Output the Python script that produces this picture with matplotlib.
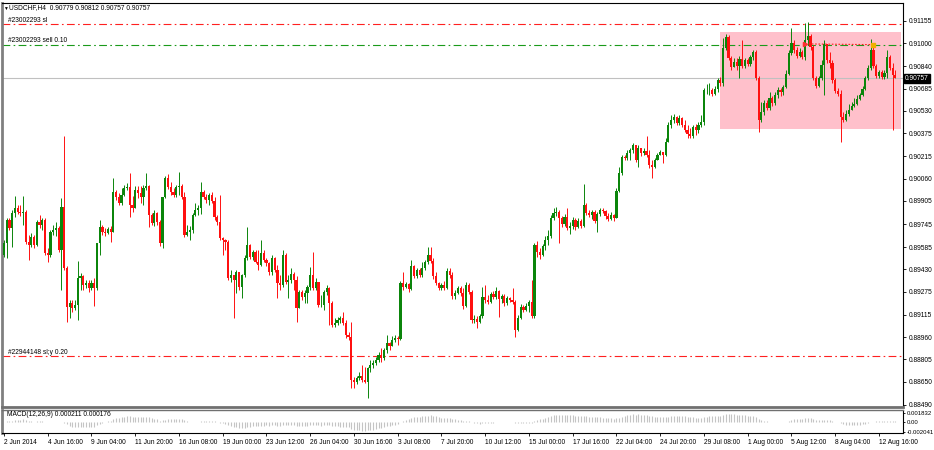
import numpy as np
import pandas as pd
import matplotlib
matplotlib.use("Agg")
import matplotlib.pyplot as plt
from matplotlib.patches import Rectangle

# USDCHF H4 bars, prices in points (1 point = 0.00001)
first_open_pts = 89530
close_pts = [
    89614, 89773, 89718, 89822, 89856, 89829, 89822, 89829, 89621, 89600,
    89655, 89600, 89759, 89739, 89773, 89544, 89530, 89690, 89704, 89718,
    89565, 89863, 89440, 89169, 89197, 89162, 89183, 89371, 89385, 89322,
    89336, 89301, 89336, 89301, 89614, 89725, 89690, 89683, 89711, 89690,
    89968, 89933, 89891, 89947, 89995, 90002, 89877, 89856, 89981, 89961,
    89933, 89995, 90009, 89808, 89752, 89822, 89759, 89614, 89933, 90065,
    90002, 89968, 89947, 90002, 90009, 89933, 89669, 89690, 89704, 89808,
    89843, 89856, 89968, 89933, 89912, 89947, 89905, 89794, 89759, 89648,
    89634, 89621, 89371, 89392, 89357, 89412, 89308, 89392, 89509, 89600,
    89516, 89551, 89482, 89461, 89544, 89496, 89475, 89412, 89509, 89426,
    89336, 89322, 89530, 89343, 89357, 89398, 89357, 89162, 89274, 89239,
    89267, 89308, 89392, 89301, 89343, 89183, 89183, 89274, 89301, 89197,
    89045, 89058, 89079, 89093, 89058, 88975, 88961, 88663, 88649, 88677,
    88691, 88663, 88649, 88746, 88767, 88781, 88802, 88836, 88815, 88871,
    88920, 88899, 88940, 88954, 88947, 89336, 89308, 89329, 89294, 89454,
    89385, 89426, 89392, 89440, 89482, 89530, 89489, 89385, 89336, 89301,
    89322, 89301, 89419, 89392, 89246, 89267, 89301, 89267, 89176, 89322,
    89274, 89079, 89086, 89065, 89107, 89239, 89218, 89204, 89260, 89239,
    89280, 89225, 89246, 89197, 89232, 89218, 89204, 89010, 89093, 89169,
    89149, 89176, 89204, 89107, 89600, 89551, 89530, 89593, 89634, 89662,
    89787, 89822, 89829, 89787, 89745, 89794, 89718, 89732, 89773, 89725,
    89766, 89732, 89877, 89822, 89808, 89829, 89766, 89815, 89843, 89836,
    89801, 89780, 89808, 89787, 89974, 90099, 90210, 90203, 90238, 90259,
    90294, 90190, 90273, 90238, 90252, 90224, 90155, 90141, 90190, 90224,
    90245, 90224, 90315, 90433, 90467, 90488, 90446, 90481, 90433, 90398,
    90370, 90356, 90419, 90398, 90433, 90453, 90675, 90675, 90675, 90648,
    90682, 90745, 90724, 90967, 91043, 90897, 90835, 90870, 90842, 90891,
    90842, 90884, 90856, 90904, 90939, 90759, 90467, 90523, 90585, 90550,
    90620, 90585, 90641, 90675, 90662, 90696, 90786, 90932, 91002, 90953,
    90911, 90939, 90904, 91022, 91050, 90974, 90759, 90703, 90759, 90849,
    90995, 90884, 90863, 90745, 90668, 90648, 90488, 90467, 90509, 90537,
    90564, 90578, 90613, 90641, 90682, 90759, 90828, 90953, 90842, 90773,
    90800, 90766, 90793, 90904, 90828, 90779, 90757,
]
high_pts = [
    89634, 89787, 89787, 89843, 89940, 89877, 89877, 89940, 89843, 89669,
    89683, 89669, 89773, 89808, 89787, 89787, 89579, 89704, 89739, 89759,
    89732, 89926, 90356, 89454, 89218, 89218, 89218, 89489, 89405, 89392,
    89357, 89357, 89357, 89371, 89614, 89773, 89739, 89718, 89725, 89732,
    90065, 89981, 89961, 89995, 90016, 90030, 90099, 89940, 90009, 90009,
    90009, 90016, 90099, 90016, 89822, 89843, 89829, 89773, 89933, 90079,
    90092, 90037, 89995, 90016, 90106, 90023, 89968, 89739, 89732, 89822,
    89891, 89877, 90037, 89981, 89954, 89961, 89968, 89933, 89808, 89947,
    89655, 89641, 89634, 89426, 89392, 89426, 89412, 89398, 89530, 89725,
    89607, 89565, 89565, 89565, 89634, 89565, 89509, 89482, 89530, 89516,
    89461, 89392, 89565, 89544, 89392, 89440, 89412, 89385, 89287, 89287,
    89287, 89322, 89447, 89551, 89371, 89343, 89253, 89287, 89322, 89308,
    89211, 89093, 89100, 89107, 89135, 89079, 88996, 89065, 88684, 88691,
    88718, 88767, 88753, 88753, 88802, 88802, 88822, 88857, 88885, 88885,
    88975, 88927, 88968, 88975, 88968, 89350, 89412, 89343, 89336, 89496,
    89461, 89440, 89440, 89482, 89496, 89586, 89586, 89509, 89412, 89343,
    89336, 89350, 89440, 89440, 89412, 89287, 89315, 89315, 89301, 89343,
    89336, 89287, 89114, 89107, 89121, 89308, 89322, 89253, 89274, 89280,
    89308, 89287, 89260, 89260, 89246, 89239, 89301, 89218, 89114, 89190,
    89183, 89197, 89218, 89357, 89614, 89627, 89579, 89607, 89662, 89704,
    89808, 89856, 89863, 89843, 89801, 89815, 89856, 89759, 89794, 89787,
    89787, 89780, 90023, 89891, 89843, 89843, 89843, 89829, 89856, 89856,
    89843, 89822, 89829, 89815, 89995, 90141, 90224, 90224, 90259, 90273,
    90308, 90294, 90294, 90273, 90273, 90356, 90259, 90190, 90203, 90238,
    90259, 90238, 90342, 90453, 90502, 90509, 90495, 90502, 90488, 90467,
    90433, 90412, 90433, 90439, 90453, 90502, 90689, 90717, 90724, 90689,
    90703, 90759, 90766, 91036, 91064, 91057, 90911, 90897, 90897, 90911,
    91022, 90897, 90897, 90918, 90953, 90953, 90773, 90592, 90606, 90606,
    90662, 90634, 90662, 90696, 90689, 90710, 90814, 90953, 91106, 91022,
    90974, 90967, 90953, 91140, 91147, 91064, 90988, 90773, 90773, 90884,
    91022, 90995, 90939, 90884, 90759, 90689, 90675, 90523, 90537, 90578,
    90592, 90620, 90641, 90655, 90703, 90773, 90849, 91029, 91002, 90856,
    90814, 90814, 90814, 90953, 90918, 90863, 90812,
]
low_pts = [
    89516, 89509, 89704, 89586, 89794, 89815, 89801, 89739, 89607, 89496,
    89586, 89579, 89593, 89718, 89704, 89530, 89482, 89516, 89669, 89662,
    89551, 89287, 89426, 89065, 89093, 89135, 89149, 89079, 89287, 89287,
    89301, 89274, 89287, 89176, 89287, 89530, 89669, 89662, 89676, 89621,
    89690, 89912, 89877, 89877, 89940, 89981, 89794, 89829, 89912, 89926,
    89891, 89877, 89981, 89725, 89739, 89732, 89739, 89593, 89579, 89926,
    89988, 89947, 89933, 89933, 89947, 89919, 89655, 89662, 89634, 89683,
    89801, 89808, 89815, 89919, 89891, 89877, 89891, 89773, 89739, 89634,
    89530, 89565, 89357, 89343, 89093, 89267, 89287, 89232, 89378, 89496,
    89503, 89496, 89475, 89426, 89454, 89482, 89454, 89392, 89392, 89412,
    89232, 89287, 89308, 89329, 89232, 89336, 89287, 89065, 89183, 89218,
    89197, 89197, 89287, 89287, 89287, 89169, 89169, 89149, 89253, 89045,
    89031, 89031, 89045, 89058, 89045, 88954, 88940, 88607, 88607, 88635,
    88663, 88649, 88642, 88538, 88718, 88746, 88767, 88788, 88788, 88802,
    88850, 88871, 88899, 88926, 88906, 88940, 89287, 89301, 89274, 89287,
    89371, 89371, 89378, 89378, 89426, 89468, 89475, 89364, 89322, 89287,
    89287, 89287, 89294, 89371, 89225, 89225, 89260, 89246, 89156, 89169,
    89260, 89058, 89058, 89024, 89058, 89093, 89197, 89190, 89197, 89225,
    89225, 89100, 89197, 89176, 89183, 89204, 89190, 88961, 89003, 89086,
    89135, 89142, 89135, 89093, 89093, 89516, 89503, 89523, 89565, 89600,
    89648, 89773, 89801, 89614, 89725, 89732, 89704, 89676, 89711, 89704,
    89718, 89718, 89725, 89808, 89794, 89780, 89752, 89690, 89801, 89822,
    89780, 89766, 89773, 89766, 89787, 89968, 90086, 90190, 90190, 90190,
    90238, 90176, 90141, 90217, 90224, 90210, 90134, 90065, 90134, 90190,
    90224, 90169, 90217, 90315, 90412, 90446, 90433, 90433, 90419, 90384,
    90342, 90342, 90342, 90363, 90377, 90419, 90433, 90648, 90641, 90634,
    90641, 90662, 90703, 90703, 90953, 90884, 90814, 90842, 90814, 90759,
    90828, 90828, 90842, 90842, 90884, 90745, 90384, 90453, 90502, 90537,
    90537, 90564, 90571, 90620, 90634, 90641, 90689, 90780, 90918, 90932,
    90897, 90904, 90891, 90884, 90988, 90953, 90745, 90689, 90696, 90745,
    90641, 90863, 90828, 90724, 90655, 90634, 90315, 90453, 90460, 90495,
    90537, 90557, 90571, 90606, 90634, 90675, 90745, 90814, 90828, 90759,
    90759, 90752, 90752, 90759, 90814, 90398, 90757,
]

date_labels = ["2 Jun 2014", "4 Jun 16:00", "9 Jun 04:00", "11 Jun 20:00",
               "16 Jun 08:00", "19 Jun 00:00", "23 Jun 12:00", "26 Jun 04:00",
               "30 Jun 16:00", "3 Jul 08:00", "7 Jul 20:00", "10 Jul 12:00",
               "15 Jul 00:00", "17 Jul 16:00", "22 Jul 04:00", "24 Jul 20:00",
               "29 Jul 08:00", "1 Aug 00:00", "5 Aug 12:00", "8 Aug 04:00",
               "12 Aug 16:00"]
price_ticks = [0.91155, 0.91000, 0.90840, 0.90685, 0.90530, 0.90375, 0.90215,
               0.90060, 0.89905, 0.89745, 0.89585, 0.89430, 0.89275, 0.89115,
               0.88960, 0.88805, 0.88650, 0.88490]
macd_ticks = [0.001832, 0.0, -0.002041]
macd_tick_labels = ["0.001832", "0.00", "-0.002041"]

sl_level = 0.91130
sell_level = 0.90990
other_level = 0.88830
last_price = 0.90757
zone_top, zone_bottom = 0.91078, 0.90405
zone_start, zone_end = 262, 328
trade_bars = [293, 318]
trade_prices = [0.90995, 0.90990]

plt.rcParams['font.family'] = ['Liberation Sans', 'DejaVu Sans']
fs = 4.8

close = np.array(close_pts) / 1e5
high = np.array(high_pts) / 1e5
low = np.array(low_pts) / 1e5
opens = np.r_[first_open_pts / 1e5, close[:-1]]
high = np.maximum(high, np.maximum(opens, close))
low = np.minimum(low, np.minimum(opens, close))
idx = np.arange(len(close))
up = close >= opens
cols = np.where(up, '#0b850b', '#ff1010')

fig = plt.figure(figsize=(9.34, 4.5), dpi=100)
W, H = 934, 450
ax = fig.add_axes([2 / W, 1 - 407 / H, 901 / W, 404 / H])
axm = fig.add_axes([2 / W, 1 - 433 / H, 901 / W, 23 / H])

# pink zone behind candles
ax.add_patch(Rectangle((zone_start, zone_bottom), zone_end - zone_start,
                       zone_top - zone_bottom, facecolor='#ffc0cb',
                       edgecolor='none', zorder=0))

# order lines
ax.axhline(last_price, color='#c0c0c0', lw=0.8, zorder=1)
ax.axhline(sl_level, color='#ff2020', lw=0.8, dashes=(7, 3, 1.5, 3), zorder=1)
ax.axhline(sell_level, color='#1a9a1a', lw=0.8, dashes=(7, 3, 1.5, 3), zorder=1)
ax.axhline(other_level, color='#ff2020', lw=0.8, dashes=(7, 3, 1.5, 3), zorder=1)
ax.plot(trade_bars, trade_prices, color='#ff2020', lw=0.8, ls=(0, (1.5, 1.5)), zorder=4)
ax.plot(trade_bars[0], trade_prices[0], marker='>', ms=3, color='#ff3030', zorder=5)
ax.plot(trade_bars[1], trade_prices[1], marker='s', ms=2.5, color='#f0b000', zorder=5)

# candles
ax.vlines(idx, low, high, colors=cols, lw=0.7, zorder=2)
body = np.maximum(np.abs(close - opens), 0.000012)
ax.bar(idx, body, bottom=np.minimum(opens, close), width=0.8, color=cols,
       linewidth=0, zorder=3)

ax.set_xlim(-0.73, 328.8)
ax.set_ylim(0.88475, 0.91279)
ax.set_xticks([])
ax.yaxis.tick_right()
ax.set_yticks(price_ticks)
ax.set_yticklabels([f"{v:.5f}" for v in price_ticks])
ax.tick_params(axis='y', direction='out', length=2.5, width=0.6, pad=1.5,
               labelsize=fs, colors='black')
for side in ['top', 'right']:
    ax.spines[side].set_linewidth(0.8)
ax.spines['left'].set_color('#808080')
ax.spines['left'].set_linewidth(2)
ax.spines['bottom'].set_color('#707070')
ax.spines['bottom'].set_linewidth(2)

ax.text(1.002, last_price, "0.90757", transform=ax.get_yaxis_transform(),
        ha='left', va='center', fontsize=fs, color='white',
        bbox=dict(boxstyle='square,pad=0.15', facecolor='black', edgecolor='black'),
        zorder=6, clip_on=False)

# MACD histogram
s = pd.Series(close)
macd = s.ewm(span=12, adjust=False).mean() - s.ewm(span=26, adjust=False).mean()
axm.vlines(idx, 0, macd.values, colors='#c4c4c4', lw=0.8)
axm.set_xlim(-0.73, 328.8)
axm.set_ylim(-0.0023, 0.00254)
axm.yaxis.tick_right()
axm.set_yticks(macd_ticks)
axm.set_yticklabels(macd_tick_labels)
axm.tick_params(axis='y', direction='out', length=1.5, width=0.6, pad=1,
                labelsize=4.3)
for lab in axm.get_yticklabels():
    lab.set_verticalalignment('center_baseline')
axm.set_xticks(np.arange(len(date_labels)) * 16)
axm.set_xticklabels(date_labels, ha='left')
axm.tick_params(axis='x', direction='out', length=2.5, width=0.6, pad=1.5,
                labelsize=fs)
axm.spines['left'].set_color('#808080')
axm.spines['left'].set_linewidth(2)
axm.spines['top'].set_color('#707070')
axm.spines['top'].set_linewidth(1)

# texts
def fx(x, y):
    return x / W, 1 - y / H

fig.text(*fx(3, 8), "\u25bc", fontsize=3.5, va='center', ha='left')
fig.text(*fx(9, 8), "USDCHF,H4  0.90779 0.90812 0.90757 0.90757",
         fontsize=fs, va='center', ha='left')
fig.text(*fx(8, 21), "#23002293 sl", fontsize=fs, va='center', ha='left')
fig.text(*fx(8, 41), "#23002293 sell 0.10", fontsize=fs, va='center', ha='left')
fig.text(*fx(8, 352), "#22944148 sl;y 0.20", fontsize=fs, va='center', ha='left')
fig.text(*fx(7, 414), "MACD(12,26,9) 0.000211 0.000176", fontsize=fs,
         va='center', ha='left')

fig.savefig("out.png", dpi=100, facecolor='white')
